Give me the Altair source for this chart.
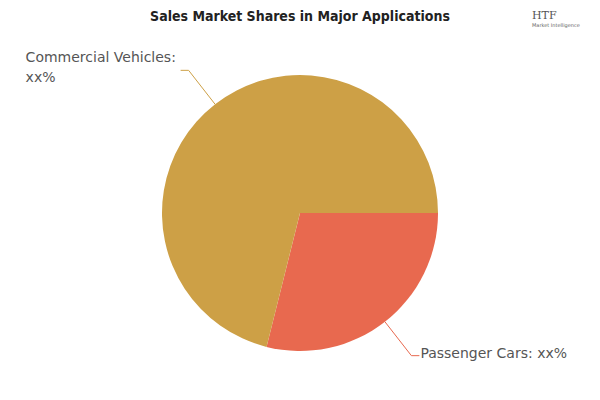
import math
import pandas as pd
import altair as alt

# ---- data ----
categories = ["Passenger Cars", "Commercial Vehicles"]
shares = [28.9, 71.1]
label_texts = [["Passenger Cars: xx%"], ["Commercial Vehicles:", "xx%"]]
colors = ["#E8694F", "#CDA046"]
title_text = "Sales Market Shares in Major Applications"

# ---- layout constants ----
W, H = 584, 384
CX, CY = 292, 205
R = 138
R_OUT = 181
TICK = 8
START = math.pi / 2

df = pd.DataFrame({"cat": categories, "share": shares, "order": range(len(categories))})

# leader line geometry derived from the shares
total = sum(shares)
rows, lab_rows = [], []
acc = 0.0
for i, (c, s) in enumerate(zip(categories, shares)):
    a = START + 2 * math.pi * (acc + s / 2) / total
    acc += s
    x0, y0 = CX + R * math.sin(a), CY - R * math.cos(a)
    x1, y1 = CX + R_OUT * math.sin(a), CY - R_OUT * math.cos(a)
    side = 1 if math.sin(a) > 0 else -1
    x2, y2 = x1 + side * TICK, y1
    for k, (px, py) in enumerate([(x0, y0), (x1, y1), (x2, y2)]):
        rows.append({"cat": c, "k": k, "x": px, "y": py})
    if side > 0:
        lab_rows.append({"cat": c, "lx": x2 + 1, "ly": y2 - 2, "txt": label_texts[i]})
    else:
        lab_rows.append({"cat": c, "lx": x2 - 155, "ly": y2 - 12, "txt": label_texts[i]})
lines_df = pd.DataFrame(rows)
labs_df = pd.DataFrame(lab_rows)

color_scale = alt.Scale(domain=categories, range=colors)
xs = alt.Scale(domain=[0, W], nice=False, zero=False)
ys = alt.Scale(domain=[H, 0], nice=False, zero=False)

pie = alt.Chart(df).mark_arc(outerRadius=R, stroke=None).encode(
    theta=alt.Theta("share:Q", stack=True, scale=alt.Scale(range=[START, START + 2 * math.pi])),
    order=alt.Order("order:Q"),
    color=alt.Color("cat:N", scale=color_scale, legend=None),
    x=alt.value(CX),
    y=alt.value(CY),
)

leaders = alt.Chart(lines_df).mark_line(strokeWidth=1).encode(
    x=alt.X("x:Q", scale=xs, axis=None),
    y=alt.Y("y:Q", scale=ys, axis=None),
    detail="cat:N",
    order="k:Q",
    color=alt.Color("cat:N", scale=color_scale, legend=None),
)

labels = alt.Chart(labs_df).mark_text(
    align="left", baseline="middle", font="DejaVu Sans", fontSize=14,
    color="#555555", lineHeight=20,
).encode(
    x=alt.X("lx:Q", scale=xs, axis=None),
    y=alt.Y("ly:Q", scale=ys, axis=None),
    text="txt",
)

title = alt.Chart(pd.DataFrame({"t": [title_text]})).mark_text(
    font="DejaVu Sans Condensed", fontWeight="bold", fontSize=14, color="#222222",
    align="center", baseline="top",
).encode(x=alt.value(292), y=alt.value(2), text="t:N")

logo = alt.Chart(pd.DataFrame({"t": ["HTF"]})).mark_text(
    font="DejaVu Serif", fontSize=11, color="#555555", align="left", baseline="top",
).encode(x=alt.value(524), y=alt.value(2), text="t:N")
logo2 = alt.Chart(pd.DataFrame({"t": ["Market Intelligence"]})).mark_text(
    font="DejaVu Sans", fontSize=5, color="#666666", align="left", baseline="middle",
).encode(x=alt.value(524), y=alt.value(17), text="t:N")

chart = alt.layer(pie, leaders, labels, title, logo, logo2).properties(
    width=W, height=H, padding=0, autosize=alt.AutoSizeParams(type="none"),
    background="white",
).configure_view(stroke=None)

chart.save("out.html", embed_options={"renderer": "svg", "actions": False})
